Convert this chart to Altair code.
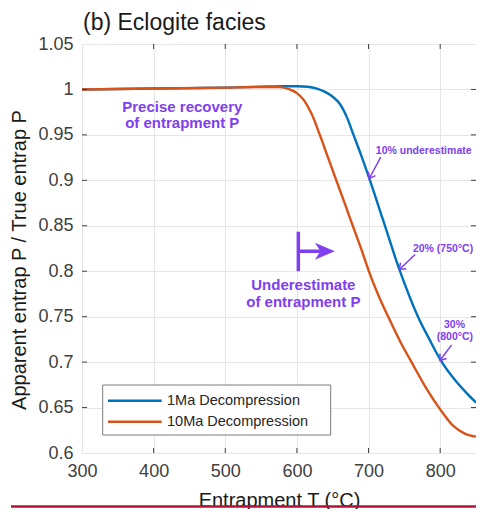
import math
import altair as alt
import pandas as pd

# ---------------- data ----------------
series_names = ["1Ma Decompression", "10Ma Decompression"]
series_colors = ["#0072BD", "#D95319"]

t_1ma = [300, 350, 400, 450, 500, 550, 580, 600, 615, 628, 640, 650, 660, 670, 679,
         690, 702, 720, 743, 769, 785, 800, 823, 838, 850]
r_1ma = [1.000, 1.0005, 1.001, 1.0015, 1.002, 1.003, 1.0035, 1.0035, 1.003, 1.001,
         0.997, 0.992, 0.984, 0.969, 0.950, 0.927, 0.900, 0.857, 0.802, 0.750,
         0.725, 0.703, 0.678, 0.665, 0.6555]

t_10ma = [300, 400, 500, 550, 575, 590, 600, 610, 620, 632, 643, 655, 667, 678, 690,
          700, 714, 728, 744, 760, 780, 800, 818, 835, 850]
r_10ma = [1.000, 1.001, 1.002, 1.0027, 1.0025, 1.000, 0.996, 0.988, 0.974, 0.950,
          0.926, 0.900, 0.874, 0.850, 0.824, 0.801, 0.773, 0.749, 0.723, 0.700,
          0.672, 0.648, 0.630, 0.621, 0.618]

x_ticks = [300, 400, 500, 600, 700, 800]
y_ticks = [0.6, 0.65, 0.7, 0.75, 0.8, 0.85, 0.9, 0.95, 1.0, 1.05]
x_inner_ticks = [400, 500, 600, 700, 800]
y_inner_ticks = [0.65, 0.7, 0.75, 0.8, 0.85, 0.9, 0.95, 1.0]

title_text = "(b) Eclogite facies"
x_title = "Entrapment T (°C)"
y_title = "Apparent entrap P / True entrap P"

# annotations (data coordinates)
ann_text = ["Precise recovery", "of entrapment P", "Underestimate", "of entrapment P",
            "10% underestimate", "20% (750°C)", "30%", "(800°C)"]
ann_x = [440, 440, 609, 609, 777, 804, 820, 820.5]
ann_y = [0.981, 0.963, 0.7844, 0.7657, 0.9325, 0.8245, 0.741, 0.7274]
ann_size = [15, 15, 15, 15, 10.5, 10.5, 10.5, 10.5]

arrow_x = [717, 765, 816]
arrow_y = [0.9255, 0.8184, 0.719]
arrow_x2 = [701, 743, 799.7]
arrow_y2 = [0.902, 0.8019, 0.7018]

bar_x = [602]
bar_y = [0.8435]
bar_y2 = [0.800]
big_arrow_x = [602]
big_arrow_x2 = [653]
big_arrow_y = [0.822]

# ---------------- layout ----------------
W, H = 394, 409
XMIN, XMAX = 300, 850
YMIN, YMAX = 0.6, 1.05
PURPLE = "#8040F0"
FONT = "Liberation Sans"
FRAME = "#404040"

xs = alt.Scale(domain=[XMIN, XMAX], nice=False, zero=False)
ys = alt.Scale(domain=[YMIN, YMAX], nice=False, zero=False)


def to_px(t, v):
    return ((t - XMIN) / (XMAX - XMIN) * W, (YMAX - v) / (YMAX - YMIN) * H)


x_axis = alt.Axis(values=x_ticks, title=x_title, grid=True, gridColor="#e6e6e6",
                  domain=False, ticks=False, labelFontSize=18, labelColor="#404040",
                  labelFont=FONT, labelPadding=9, labelFlush=False,
                  titleFont=FONT, titleFontSize=20, titleFontWeight="normal",
                  titleColor="#1a1a1a", titleX=W / 2, titleY=53,
                  titleBaseline="alphabetic", titleAlign="center")
y_axis = alt.Axis(values=y_ticks, title=y_title, format="~g", grid=True,
                  gridColor="#e6e6e6", domain=False, ticks=False, labelFontSize=18,
                  labelColor="#404040", labelFont=FONT, labelPadding=9,
                  titleFont=FONT, titleFontSize=20, titleFontWeight="normal",
                  titleColor="#1a1a1a", titleX=-63, titleY=215.5, titleAngle=270,
                  titleBaseline="middle", titleAlign="center")

df1 = pd.DataFrame({"T": t_1ma, "R": r_1ma, "series": series_names[0]})
df2 = pd.DataFrame({"T": t_10ma, "R": r_10ma, "series": series_names[1]})

base_line_1 = alt.Chart(df1).mark_line(strokeWidth=2.4, interpolate="monotone",
                                       color=series_colors[0]).encode(
    x=alt.X("T:Q", scale=xs, axis=x_axis),
    y=alt.Y("R:Q", scale=ys, axis=y_axis),
)
base_line_2 = alt.Chart(df2).mark_line(strokeWidth=2.4, interpolate="monotone",
                                       color=series_colors[1]).encode(
    x=alt.X("T:Q", scale=xs),
    y=alt.Y("R:Q", scale=ys),
)

# inward ticks (MATLAB style)
dxt = pd.DataFrame({"T": x_inner_ticks})
dyt = pd.DataFrame({"R": y_inner_ticks})
tick_b = alt.Chart(dxt).mark_rule(color=FRAME, strokeWidth=1).encode(
    x=alt.X("T:Q", scale=xs), y=alt.value(H), y2=alt.value(H - 5))
tick_t = alt.Chart(dxt).mark_rule(color=FRAME, strokeWidth=1).encode(
    x=alt.X("T:Q", scale=xs), y=alt.value(0), y2=alt.value(5))
tick_l = alt.Chart(dyt).mark_rule(color=FRAME, strokeWidth=1).encode(
    y=alt.Y("R:Q", scale=ys), x=alt.value(0), x2=alt.value(5))
tick_r = alt.Chart(dyt).mark_rule(color=FRAME, strokeWidth=1).encode(
    y=alt.Y("R:Q", scale=ys), x=alt.value(W), x2=alt.value(W - 5))

# annotation texts
ann_df = pd.DataFrame({"x": ann_x, "y": ann_y, "text": ann_text, "size": ann_size})
ann_layer = alt.Chart(ann_df).mark_text(font=FONT, fontWeight="bold", color=PURPLE,
                                        align="center", baseline="middle").encode(
    x=alt.X("x:Q", scale=xs), y=alt.Y("y:Q", scale=ys), text="text:N",
    size=alt.Size("size:Q", scale=None, legend=None))

# small arrows
arr_df = pd.DataFrame({"x": arrow_x, "y": arrow_y, "x2": arrow_x2, "y2": arrow_y2})
arr_lines = alt.Chart(arr_df).mark_rule(color=PURPLE, strokeWidth=1.5).encode(
    x=alt.X("x:Q", scale=xs), y=alt.Y("y:Q", scale=ys), x2="x2:Q", y2="y2:Q")
angles = []
for a, b, c, d in zip(arrow_x, arrow_y, arrow_x2, arrow_y2):
    p0 = to_px(a, b)
    p1 = to_px(c, d)
    angles.append(math.degrees(math.atan2(p1[0] - p0[0], -(p1[1] - p0[1]))) % 360)
head_df = pd.DataFrame({"x": arrow_x2, "y": arrow_y2, "angle": angles})
arr_heads = alt.Chart(head_df).mark_point(
    shape="M-0.75,1L0,0L0.75,1", filled=False, color=PURPLE, strokeWidth=1.5,
    size=121, opacity=1).encode(
    x=alt.X("x:Q", scale=xs), y=alt.Y("y:Q", scale=ys),
    angle=alt.Angle("angle:Q", scale=None))

# big "underestimate" arrow
bar_df = pd.DataFrame({"x": bar_x, "y": bar_y, "y2": bar_y2})
bar_layer = alt.Chart(bar_df).mark_rule(color=PURPLE, strokeWidth=3.5).encode(
    x=alt.X("x:Q", scale=xs), y=alt.Y("y:Q", scale=ys), y2="y2:Q")
big_df = pd.DataFrame({"x": big_arrow_x, "x2": [big_arrow_x2[0] - 8],
                       "y": big_arrow_y, "tip": big_arrow_x2})
big_line = alt.Chart(big_df).mark_rule(color=PURPLE, strokeWidth=3.5).encode(
    x=alt.X("x:Q", scale=xs), x2="x2:Q", y=alt.Y("y:Q", scale=ys))
big_head = alt.Chart(big_df).mark_point(
    shape="M0,0L-1,-0.42L-0.72,0L-1,0.42Z", filled=True, color=PURPLE,
    size=1600, opacity=1, strokeWidth=0).encode(
    x=alt.X("tip:Q", scale=xs), y=alt.Y("y:Q", scale=ys))

# manual legend box
one = pd.DataFrame({"a": [0]})
leg_box = alt.Chart(one).mark_rect(fill="white", stroke="#7a7a7a", strokeWidth=1).encode(
    x=alt.value(20.7), x2=alt.value(248.7), y=alt.value(341), y2=alt.value(391))
leg_layers = [leg_box]
for i, (name, col) in enumerate(zip(series_names, series_colors)):
    yy = 356.7 + 21 * i
    leg_layers.append(alt.Chart(one).mark_rule(color=col, strokeWidth=2.4).encode(
        x=alt.value(26), x2=alt.value(79.7), y=alt.value(yy)))
    leg_layers.append(alt.Chart(one).mark_text(
        text=name, font=FONT, fontSize=14.5, color="#262626", align="left",
        baseline="middle").encode(x=alt.value(85), y=alt.value(yy)))

# chart title as text above the frame
title_layer = alt.Chart(one).mark_text(
    text=title_text, font=FONT, fontSize=23, color="#1a1a1a", align="left",
    baseline="alphabetic").encode(x=alt.value(1), y=alt.value(-14))

# red rule at the bottom of the figure
red_rule = alt.Chart(one).mark_rule(color="#B41232", strokeWidth=2.5).encode(
    x=alt.value(-71), x2=alt.value(402), y=alt.value(462.5))

chart = alt.layer(
    base_line_1, base_line_2, tick_b, tick_t, tick_l, tick_r,
    ann_layer, arr_lines, arr_heads, bar_layer, big_line, big_head,
    *leg_layers, title_layer, red_rule
).properties(
    width=W, height=H,
    autosize=alt.AutoSizeParams(type="none"),
    padding={"left": 74, "top": 36, "right": 0, "bottom": 56},
).configure_view(
    stroke=FRAME, strokeWidth=1.5
).configure(background="white")

chart.save("out.html", embed_options={"renderer": "svg", "actions": False})
